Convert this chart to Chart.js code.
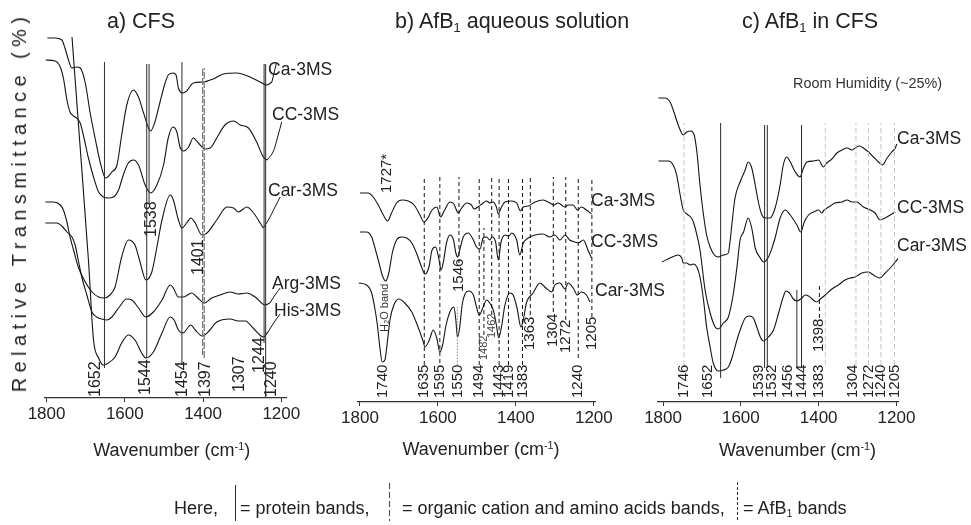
<!DOCTYPE html>
<html><head><meta charset="utf-8">
<script src="https://cdn.jsdelivr.net/npm/chart.js@4.4.1/dist/chart.umd.min.js"></script>
<style>
html,body{margin:0;padding:0;background:#fff;}
#wrap{position:relative;width:971px;height:525px;overflow:hidden;background:#fff;font-family:'Liberation Sans',Arial,Helvetica,sans-serif;color:#222;}
canvas{position:absolute;left:0;top:0;}
.t{position:absolute;white-space:nowrap;line-height:1;}
.t sub{font-size:60%;vertical-align:-0.3em;line-height:0;}
.t sup{font-size:60%;vertical-align:0.55em;line-height:0;}
.c{transform:translateX(-50%);}
</style></head><body>
<div id="wrap">
<canvas id="ca" width="971" height="525"></canvas>
<canvas id="cb" width="971" height="525"></canvas>
<canvas id="cc" width="971" height="525"></canvas>
<div class="t" style="left:107px;top:10.5px;font-size:21.5px">a) CFS</div>
<div class="t" style="left:395px;top:10.5px;font-size:21.5px">b) AfB<sub>1</sub> aqueous solution</div>
<div class="t" style="left:742px;top:10.5px;font-size:21.5px">c) AfB<sub>1</sub> in CFS</div>
<div class="t" id="ytitle" style="left:19px;top:202px;font-size:20px;letter-spacing:5.4px;transform:translate(-50%,-50%) rotate(-90deg);">Relative Transmittance (%)</div>
<div class="t c" style="left:171.7px;top:441.2px;font-size:18px">Wavenumber (cm<sup>-1</sup>)</div>
<div class="t c" style="left:481px;top:440.2px;font-size:18px">Wavenumber (cm<sup>-1</sup>)</div>
<div class="t c" style="left:797.5px;top:441.2px;font-size:18px">Wavenumber (cm<sup>-1</sup>)</div>
<div class="t" style="left:268px;top:60.5px;font-size:17.5px">Ca-3MS</div>
<div class="t" style="left:272px;top:105.5px;font-size:17.5px">CC-3MS</div>
<div class="t" style="left:268px;top:181.5px;font-size:17.5px">Car-3MS</div>
<div class="t" style="left:272px;top:274.5px;font-size:17.5px">Arg-3MS</div>
<div class="t" style="left:274px;top:301.5px;font-size:17.5px">His-3MS</div>
<div class="t" style="left:591px;top:191.5px;font-size:17.5px">Ca-3MS</div>
<div class="t" style="left:591px;top:232.5px;font-size:17.5px">CC-3MS</div>
<div class="t" style="left:595px;top:281.5px;font-size:17.5px">Car-3MS</div>
<div class="t" style="left:897px;top:129.5px;font-size:17.5px">Ca-3MS</div>
<div class="t" style="left:897px;top:198.5px;font-size:17.5px">CC-3MS</div>
<div class="t" style="left:897px;top:236.5px;font-size:17.5px">Car-3MS</div>
<div class="t" style="left:793px;top:76px;font-size:14.4px;color:#333">Room Humidity (~25%)</div>
<div class="t" style="left:174px;top:498.7px;font-size:18px">Here,</div>
<div class="t" style="left:240px;top:498.7px;font-size:18px">= protein bands,</div>
<div class="t" style="left:402px;top:498.7px;font-size:18px">= organic cation and amino acids bands,</div>
<div class="t" style="left:743px;top:498.7px;font-size:18px">= AfB<sub>1</sub> bands</div>
</div>
<script>
// ---------------- DATA (wavenumber cm-1, relative transmittance a.u.) ----------------
const xTicks = [1800, 1600, 1400, 1200];

// a) CFS
const aCa = [[1798,360],[1778,360],[1761,358],[1753,350],[1744,338],[1735,330],[1723,331],[1714,330],[1701,315],[1689,286],[1676,260],[1663,236],[1649,220],[1633,226],[1620,233],[1608,263],[1595,293],[1578,308],[1565,301],[1552,285],[1534,267],[1523,276],[1510,296],[1497,315],[1489,323],[1476,325],[1469,323],[1463,310],[1452,305],[1442,307],[1425,315],[1399,316],[1374,319],[1348,324],[1314,325],[1280,321],[1254,316],[1237,313],[1224,316]];
const aCC = [[1802,338],[1778,337],[1765,331],[1757,320],[1748,298],[1740,286],[1731,282],[1723,280],[1714,275],[1706,263],[1693,240],[1680,221],[1667,206],[1655,201],[1642,200],[1629,201],[1616,208],[1604,223],[1591,235],[1578,238],[1565,233],[1548,213],[1534,205],[1518,213],[1501,233],[1489,260],[1477,271],[1467,266],[1459,251],[1450,247],[1437,251],[1425,260],[1412,255],[1395,249],[1382,250],[1365,260],[1344,273],[1322,277],[1305,273],[1284,270],[1263,256],[1246,241],[1236,238]];
const aCar = [[1803,196],[1782,196],[1765,193],[1757,188],[1748,176],[1740,161],[1731,148],[1719,131],[1701,116],[1684,106],[1667,101],[1653,100],[1638,103],[1625,111],[1608,141],[1591,158],[1574,153],[1561,136],[1546,118],[1531,126],[1518,151],[1505,178],[1484,203],[1476,198],[1463,178],[1454,170],[1442,175],[1431,180],[1420,175],[1403,163],[1390,165],[1365,178],[1339,191],[1322,190],[1310,186],[1288,191],[1271,185],[1246,170]];
const aArg = [[1803,175],[1774,175],[1761,172],[1748,166],[1735,161],[1727,153],[1719,138],[1710,121],[1697,103],[1684,86],[1672,81],[1659,79],[1646,78],[1633,81],[1616,90],[1595,99],[1582,98],[1565,90],[1546,81],[1527,86],[1505,98],[1484,113],[1476,110],[1463,101],[1450,101],[1429,105],[1416,101],[1397,95],[1378,100],[1356,103],[1331,106],[1310,104],[1288,105],[1267,101],[1241,93],[1229,95]];
const aHis = [[1735,361],[1714,250],[1693,138],[1680,58],[1667,40],[1655,33],[1642,35],[1625,41],[1608,55],[1591,63],[1574,58],[1557,45],[1546,40],[1527,46],[1505,65],[1484,81],[1474,78],[1463,68],[1452,65],[1431,73],[1420,68],[1402,62],[1387,66],[1365,76],[1331,79],[1310,77],[1292,77],[1272,70],[1246,61],[1234,66]];

// b) AfB1 aqueous solution
const bCa = [[1800,209],[1779,209],[1766,205],[1753,197],[1740,187],[1729,181],[1719,189],[1706,199],[1693,202],[1676,201],[1661,197],[1646,187],[1636,180],[1626,184],[1615,192],[1603,195],[1593,185],[1584,191],[1569,200],[1559,198],[1548,189],[1539,194],[1526,199],[1514,197],[1507,193],[1497,195],[1484,199],[1475,201],[1467,199],[1458,200],[1450,195],[1445,188],[1438,194],[1428,200],[1411,201],[1398,199],[1388,191],[1381,195],[1368,196],[1351,200],[1330,202],[1313,199],[1302,197],[1292,199],[1274,195],[1266,197],[1253,197],[1242,192],[1232,195],[1219,192],[1206,188]];
const bCC = [[1800,170],[1783,170],[1770,165],[1760,152],[1751,139],[1743,127],[1734,121],[1726,129],[1717,149],[1706,162],[1693,165],[1680,164],[1667,159],[1655,149],[1642,135],[1633,128],[1623,135],[1615,152],[1606,155],[1597,142],[1592,132],[1586,140],[1578,159],[1569,167],[1560,162],[1554,149],[1549,145],[1544,152],[1535,165],[1522,169],[1509,162],[1501,155],[1492,153],[1484,164],[1475,165],[1467,162],[1461,165],[1452,160],[1445,142],[1438,160],[1428,167],[1418,166],[1411,169],[1398,162],[1390,147],[1381,159],[1368,164],[1351,167],[1330,168],[1313,165],[1300,167],[1287,162],[1274,167],[1262,162],[1249,160],[1240,159],[1227,162],[1215,152],[1206,144]];
const bCar = [[1803,119],[1783,117],[1770,109],[1762,94],[1756,79],[1749,55],[1743,40],[1736,42],[1730,59],[1723,82],[1713,97],[1700,103],[1685,99],[1667,90],[1651,75],[1639,62],[1633,55],[1622,62],[1612,72],[1603,64],[1595,50],[1588,57],[1579,77],[1567,92],[1559,95],[1554,82],[1550,65],[1545,72],[1537,99],[1522,111],[1509,107],[1501,95],[1494,87],[1485,94],[1475,102],[1467,99],[1458,92],[1450,77],[1444,64],[1437,75],[1428,97],[1415,109],[1407,107],[1397,94],[1387,75],[1381,82],[1373,99],[1356,109],[1338,119],[1323,114],[1308,110],[1300,117],[1287,119],[1274,113],[1266,119],[1253,114],[1242,107],[1232,110],[1219,107],[1210,100]];

// c) AfB1 in CFS
const cCa = [[1812,304],[1795,304],[1782,300],[1772,290],[1761,277],[1748,267],[1739,270],[1729,271],[1720,267],[1713,250],[1705,217],[1696,187],[1688,167],[1679,155],[1668,147],[1658,145],[1645,147],[1632,149],[1628,160],[1615,204],[1602,220],[1589,232],[1581,240],[1572,234],[1563,217],[1555,200],[1546,187],[1538,184],[1525,184],[1512,194],[1499,217],[1491,237],[1482,245],[1473,240],[1460,230],[1448,225],[1439,234],[1430,240],[1413,241],[1400,242],[1388,235],[1379,239],[1366,243],[1353,249],[1340,252],[1327,254],[1314,252],[1306,254],[1295,256],[1285,254],[1272,250],[1259,245],[1246,240],[1236,237],[1224,244],[1212,250],[1203,254],[1199,258]];
const cCC = [[1812,241],[1786,241],[1774,237],[1765,227],[1756,207],[1748,192],[1739,188],[1729,185],[1722,180],[1713,167],[1705,152],[1692,112],[1679,89],[1666,75],[1658,73],[1645,79],[1632,85],[1619,109],[1610,135],[1602,162],[1593,170],[1581,184],[1572,174],[1563,154],[1550,144],[1542,140],[1529,145],[1520,154],[1512,164],[1499,184],[1486,192],[1473,187],[1456,177],[1446,170],[1437,180],[1426,187],[1413,190],[1400,192],[1392,189],[1386,192],[1370,196],[1358,199],[1340,200],[1327,202],[1314,200],[1302,200],[1285,195],[1267,192],[1255,189],[1242,182],[1229,184],[1216,187],[1203,190]];
const cCar = [[1803,140],[1782,144],[1761,147],[1752,144],[1748,139],[1739,139],[1731,137],[1722,138],[1713,135],[1705,125],[1696,102],[1688,75],[1679,55],[1671,39],[1658,31],[1645,32],[1632,35],[1623,44],[1610,62],[1600,74],[1589,84],[1578,86],[1568,84],[1559,75],[1550,65],[1542,61],[1529,65],[1516,72],[1503,89],[1492,104],[1484,111],[1475,109],[1465,103],[1456,101],[1443,104],[1435,107],[1426,106],[1417,103],[1405,100],[1396,103],[1383,107],[1366,113],[1349,117],[1332,122],[1319,124],[1306,125],[1289,129],[1272,130],[1259,127],[1243,124],[1229,129],[1216,134],[1203,140],[1195,144]];

// band assignments (cm-1)
const aProteinBands = [1652, 1544, 1538, 1454, 1244, 1240];
const aCationBands  = [1401, 1397];
const aExtraLabels  = [1307];
const bAfbBands     = [1635, 1595, 1546, 1494, 1482, 1462, 1443, 1419, 1383, 1363, 1304, 1272, 1240, 1205];
const bMarkerBands  = [1550];
const bExtraLabels  = ['1740', '1727*'];
const cProteinBands = [1652, 1539, 1532, 1456, 1444];
const cAfbBands     = [1746, 1383, 1304, 1272, 1240, 1205];
const cAfbShort     = [1398];

// ---------------- LAYOUT (annotation placement, styles) ----------------
const FAM = "'Liberation Sans', Arial, Helvetica, sans-serif";
const STY = {
  curve:   {color:'#141414', width:1.1},
  protein: {color:'#2b2b2b', width:1},
  cation:  {color:'#7c7c7c', width:1.3, dash:[7,2]},
  afb:     {color:'#151515', width:1, dash:[4,3]},
  marker:  {color:'#9a9a9a', width:1.2, dash:[1.5,1.5]},
  afbLight:{color:'#c6c6c6', width:1, dash:[5,3]}
};
const aLayout = {
  1652:{y:[30,336],dx:-8.5,ly:1}, 1544:{y:[40,334],dx:-1,ly:3}, 1538:{y:[194,334],dx:3,ly:161},
  1454:{y:[33,336],dx:0.5,ly:1}, 1244:{y:[55,334],dx:-4,ly:25}, 1240:{y:[1,334],dx:6,ly:1},
  1401:{y:[43,330],dx:-4.5,ly:123}, 1397:{y:[40,330],dx:1,ly:1}, 1307:{dx:0,ly:6}
};
const aLeaders = [
  [[1224,316],[1218,326],[1213,334]],
  [[1236,238],[1221,246],[1208,263],[1199,276]],
  [[1246,170],[1233,178],[1216,191],[1203,201]],
  [[1229,95],[1216,103],[1203,110]],
  [[1234,66],[1218,76],[1203,84]]
];
const bLayout = {
  1635:{y:[37,225],ly:4}, 1595:{y:[39,225],ly:4}, 1546:{y:[139,225],ly:110}, 1550:{y:[37,95],ly:4},
  1494:{y:[37,225],ly:4}, 1482:{y:[67,174],ly:42,small:true}, 1462:{y:[87,225],ly:64,small:true},
  1443:{y:[37,225],ly:4}, 1419:{y:[37,225],ly:4}, 1383:{y:[37,225],ly:4}, 1363:{y:[87,225],ly:52},
  1304:{y:[90,225],ly:55}, 1272:{y:[82,225],ly:49}, 1240:{y:[44,225],ly:4}, 1205:{y:[85,225],ly:52},
  '1740':{ly:4}, '1727*':{ly:209,dx:-1.5}
};
const bNotes = [{v:1735, text:'H\u2082O band', ly:70, small:true}];
const cLayout = {
  1652:{y:[24,279],dx:-13,ly:4}, 1539:{y:[34,277],dx:-5.5,ly:4}, 1532:{y:[34,277],dx:4.5,ly:4},
  1456:{y:[34,112],dx:-9,ly:4}, 1444:{y:[34,277],dx:0,ly:4},
  1746:{y:[37,279],ly:4}, 1383:{y:[37,279],dx:-6,ly:4}, 1304:{y:[37,279],dx:-3,ly:4},
  1272:{y:[37,279],ly:4}, 1240:{y:[37,279],ly:4}, 1205:{y:[37,279],ly:4},
  1398:{y:[84,117],dx:-1,ly:50}
};

// ---------------- BUILD ----------------
function curveDS(pairs){
  return {data:pairs.map(p=>({x:p[0],y:p[1]})), showLine:true, borderColor:STY.curve.color,
    borderWidth:STY.curve.width, pointRadius:0, cubicInterpolationMode:'monotone', fill:false};
}
function leaderDS(pairs){
  return {data:pairs.map(p=>({x:p[0],y:p[1]})), showLine:true, borderColor:STY.curve.color,
    borderWidth:1, pointRadius:0, tension:0.3, fill:false};
}
function lineDS(v, lay, st){
  return {data:[{x:v,y:lay.y[0]},{x:v,y:lay.y[1]}], showLine:true, borderColor:st.color,
    borderWidth:st.width, borderDash:st.dash||[], pointRadius:0, tension:0, fill:false};
}
function labelsFor(list, layout, size){
  return list.map(v=>{const l=layout[v]; return {v:parseFloat(v), text:String(v), dx:l.dx||0, ly:l.ly,
    size:l.small?11:size, color:l.small?'#444':'#222'};});
}

const legendMarks = [
  {x:235.5, y0:485, y1:521, st:STY.protein},
  {x:389.5, y0:483, y1:521, st:{color:'#555',width:1.2,dash:[6,3]}},
  {x:737.5, y0:482, y1:521, st:{color:'#333',width:1,dash:[3,2]}}
];

function makePlugin(items, drawLegend){
  return {
    id:'bandLabels',
    afterDatasetsDraw(chart){
      const ctx = chart.ctx, xs = chart.scales.x, ys = chart.scales.y;
      items.forEach(it=>{
        const x = xs.getPixelForValue(it.v) + it.dx;
        const y = ys.getPixelForValue(it.ly);
        ctx.save();
        ctx.translate(x,y); ctx.rotate(-Math.PI/2);
        ctx.font = it.size + 'px ' + FAM; ctx.fillStyle = it.color;
        ctx.textAlign = 'left'; ctx.textBaseline = 'middle';
        ctx.fillText(it.text, 0, 0);
        ctx.restore();
      });
      if (drawLegend){
        legendMarks.forEach(m=>{
          ctx.save(); ctx.strokeStyle = m.st.color; ctx.lineWidth = m.st.width;
          ctx.setLineDash(m.st.dash||[]);
          ctx.beginPath(); ctx.moveTo(m.x,m.y0); ctx.lineTo(m.x,m.y1); ctx.stroke(); ctx.restore();
        });
      }
    }
  };
}

function makeChart(P){
  new Chart(document.getElementById(P.canvas), {
    type:'scatter',
    data:{datasets:P.datasets},
    options:{
      responsive:false, animation:false, devicePixelRatio:1, events:[],
      layout:{padding:{left:P.left, right:971-P.right, top:P.top, bottom:0}},
      plugins:{legend:{display:false}, tooltip:{enabled:false}},
      scales:{
        x:{type:'linear', reverse:true, min:P.xMin, max:P.xMax,
          afterFit:(s)=>{ s.height = 525 - P.axisY; },
          afterBuildTicks:(s)=>{ s.ticks = xTicks.map(v=>({value:v})); },
          border:{display:true, color:'#333', width:1.2},
          grid:{display:true, drawOnChartArea:false, drawTicks:true, tickLength:4, color:'#333'},
          ticks:{autoSkip:false, maxRotation:0, color:'#222', padding:2, font:{family:FAM, size:17},
            callback:(v)=>String(v)},
          title:{display:false}
        },
        y:{display:false, min:0, max:P.axisY - P.top}
      }
    },
    plugins:[makePlugin(P.labels, P.legend)]
  });
}

// Panel a
const aDS = [];
aProteinBands.forEach(v=>aDS.push(lineDS(v, aLayout[v], STY.protein)));
aCationBands.forEach(v=>aDS.push(lineDS(v, aLayout[v], STY.cation)));
[aCa,aCC,aCar,aArg,aHis].forEach(s=>aDS.push(curveDS(s)));
aLeaders.forEach(s=>aDS.push(leaderDS(s)));
makeChart({canvas:'ca', left:45, right:286, top:20, axisY:398, xMin:1188, xMax:1804,
  datasets:aDS, legend:true,
  labels:labelsFor([...aProteinBands, ...aCationBands, ...aExtraLabels], aLayout, 16)});

// Panel b
const bDS = [];
bAfbBands.forEach(v=>bDS.push(lineDS(v, bLayout[v], STY.afb)));
bMarkerBands.forEach(v=>bDS.push(lineDS(v, bLayout[v], STY.marker)));
[bCa,bCC,bCar].forEach(s=>bDS.push(curveDS(s)));
const bLabels = labelsFor([...bAfbBands, ...bMarkerBands, ...bExtraLabels], bLayout, 15)
  .concat(bNotes.map(n=>({v:n.v, text:n.text, dx:0, ly:n.ly, size:11, color:'#333'})));
makeChart({canvas:'cb', left:358, right:595, top:20, axisY:402, xMin:1197, xMax:1805,
  datasets:bDS, legend:false, labels:bLabels});

// Panel c
const cDS = [];
cAfbBands.forEach(v=>cDS.push(lineDS(v, cLayout[v], STY.afbLight)));
cProteinBands.forEach(v=>cDS.push(lineDS(v, cLayout[v], STY.protein)));
cAfbShort.forEach(v=>cDS.push(lineDS(v, cLayout[v], STY.afb)));
[cCa,cCC,cCar].forEach(s=>cDS.push(curveDS(s)));
makeChart({canvas:'cc', left:658, right:898, top:20, axisY:402, xMin:1196, xMax:1813,
  datasets:cDS, legend:false,
  labels:labelsFor([...cAfbBands, ...cProteinBands, ...cAfbShort], cLayout, 15)});
</script>
</body></html>
